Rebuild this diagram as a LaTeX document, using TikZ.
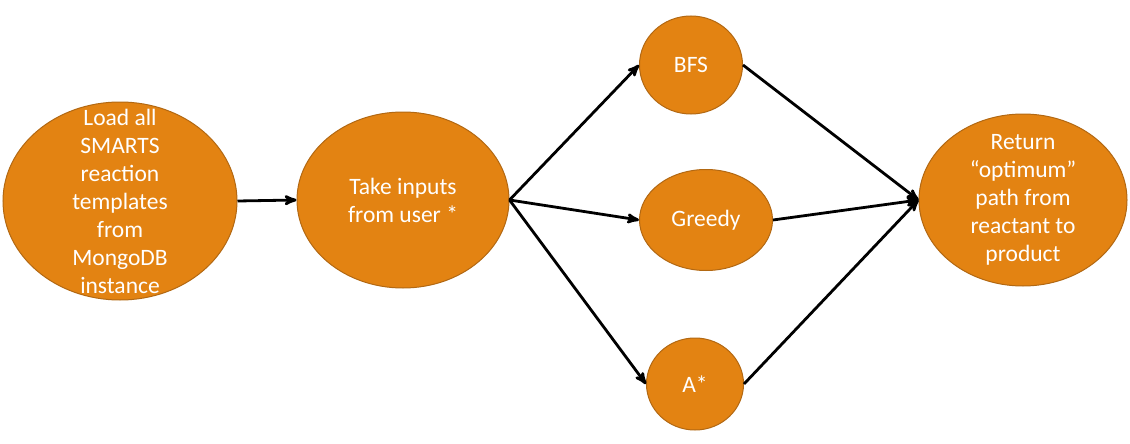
\documentclass[tikz,border=0pt]{standalone}
\usepackage{fontspec}
\setmainfont{Carlito}
\usetikzlibrary{arrows,shapes.geometric}
\definecolor{stageorange}{RGB}{227,131,18}
\definecolor{stageedge}{RGB}{178,104,18}

\begin{document}
\begin{tikzpicture}[x=1pt,y=-1pt,->,>=stealth',line width=2.8pt,
  stage/.style={ellipse,fill=stageorange,draw=stageedge,line width=1pt,inner sep=0pt},
  stage text/.style={text=white,align=center,font=\fontsize{23.5}{28}\selectfont}]
  \useasboundingbox (0,0) rectangle (1130,444);

  \node[stage,minimum width=234,minimum height=198] (load) at (120,201) {};
  \node[stage,minimum width=212,minimum height=176] (take) at (403,200) {};
  \node[stage,minimum width=103,minimum height=98] (bfs) at (691,65) {};
  \node[stage,minimum width=133,minimum height=101] (greedy) at (706,220) {};
  \node[stage,minimum width=97,minimum height=92] (astar) at (695,384) {};
  \node[stage,minimum width=208,minimum height=172] (return) at (1023,200) {};

  \node[stage text] (load text) at (load) {Load all\\SMARTS\\reaction\\templates\\from\\MongoDB\\instance};
  \node[stage text] (take text) at (take) {Take inputs\\from user *};
  \node[stage text] (bfs text) at (bfs) {BFS};
  \node[stage text] (greedy text) at (greedy) {Greedy};
  \node[stage text] (astar text) at (astar) {A*};
  \node[stage text] (return text) at (return) {Return\\“optimum”\\path from\\reactant to\\product};

  \path (load.east) edge (take.west)
    (take.east) edge (bfs.west)
                edge (greedy.west)
                edge (astar.west)
    (bfs.east) edge (return.west)
    (greedy.east) edge (return.west)
    (astar.east) edge (return.west);

\end{tikzpicture}
\end{document}
